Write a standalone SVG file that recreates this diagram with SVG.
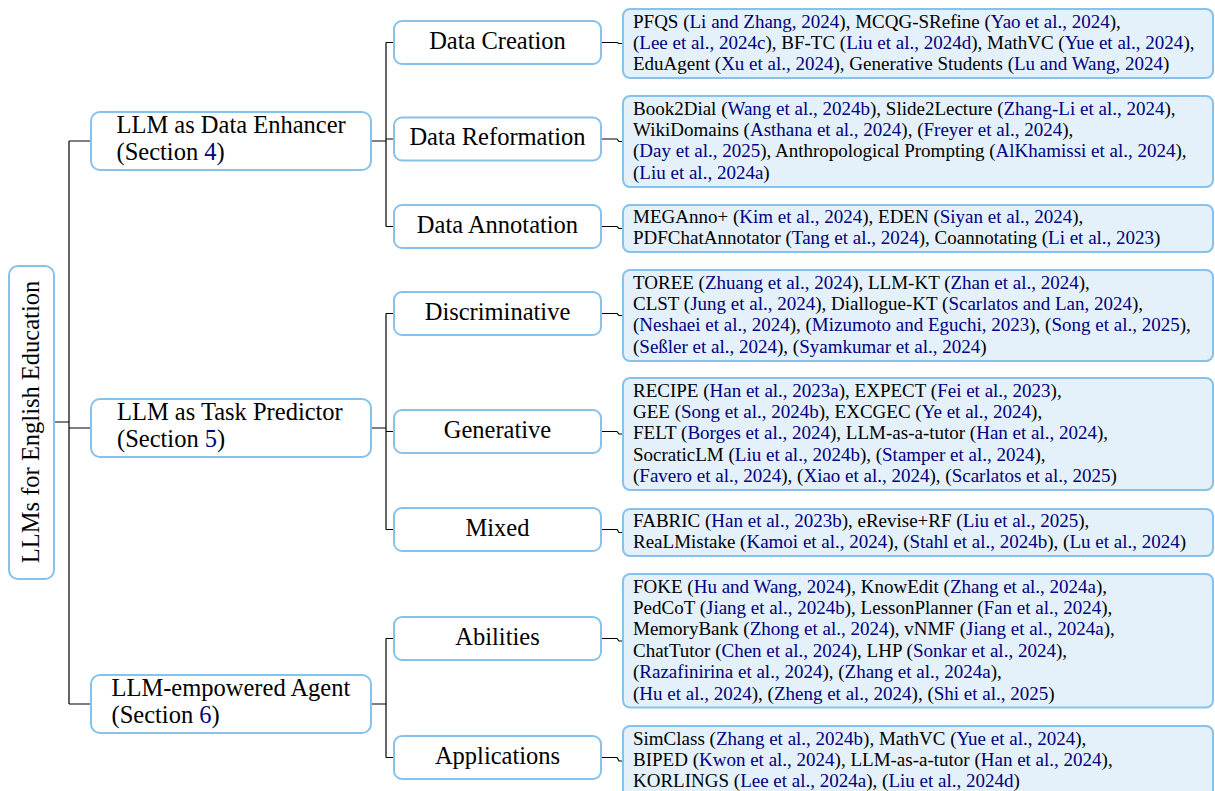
<svg xmlns="http://www.w3.org/2000/svg" width="1215" height="791" viewBox="0 0 1215 791" font-family="'Liberation Serif', Tinos, 'Times New Roman', 'DejaVu Serif', serif">
<style>
.box{fill:#ffffff;stroke:#86c2ec;stroke-width:2}
.leaf{fill:#e4f1fa;stroke:#86c2ec;stroke-width:2}
.t{font-family:'Liberation Serif', Tinos, 'Times New Roman', 'DejaVu Serif', serif;fill:#000}
.big{font-size:24.5px}
.mid{font-size:24.5px;text-anchor:middle}
.sm{font-size:19px}
.c{fill:#000080}
.conn{fill:none;stroke:#000;stroke-width:1.2}
</style>
<rect width="1215" height="791" fill="#fff"/>
<g id="connectors" class="conn">
<path d="M54,422H69M69,141V704M69,141H91M69,428H91M69,704H91"/>
<path d="M371,141H386M386,42.5V226.5M386,42.5H394M386,139H394M386,226.5H394"/>
<path d="M371,428H386M386,313.5V529.5M386,313.5H394M386,431.5H394M386,529.5H394"/>
<path d="M371,704H386M386,638.5V757.5M386,638.5H394M386,757.5H394"/>
<path d="M601,42.5H617L619,43.5H623M601,139H617L619,141.5H623M601,226.5H617L619,228.5H623M601,313.5H617L619,315.5H623M601,431.5H617L619,434H623M601,529.5H617L619,532.5H623M601,638.5H617L619,641H623M601,757.5H617L619,761H623"/>
</g>
<g id="root">
<rect class="box" x="9" y="266" width="45" height="313" rx="9"/>
<text class="t mid" transform="translate(38.5,422) rotate(-90)">LLMs for English Education</text>
</g>
<g id="enhancer">
<rect class="box" x="91" y="112" width="280" height="58" rx="9"/>
<text class="t big" x="116.5" y="133">LLM as Data Enhancer</text>
<text class="t big" x="116.5" y="159.5">(Section <tspan class="c">4</tspan>)</text>
</g>
<g id="predictor">
<rect class="box" x="91" y="399" width="280" height="58" rx="9"/>
<text class="t big" x="117" y="420">LLM as Task Predictor</text>
<text class="t big" x="117" y="446.5">(Section <tspan class="c">5</tspan>)</text>
</g>
<g id="agent">
<rect class="box" x="91" y="675" width="280" height="58" rx="9"/>
<text class="t big" x="111.5" y="696">LLM-empowered Agent</text>
<text class="t big" x="111.5" y="722.5">(Section <tspan class="c">6</tspan>)</text>
</g>
<g id="data-creation">
<rect class="box" x="394" y="21" width="207" height="43" rx="8"/>
<text class="t mid" x="497.5" y="48.5">Data Creation</text>
</g>
<g id="data-reformation">
<rect class="box" x="394" y="117.5" width="207" height="43" rx="8"/>
<text class="t mid" x="497.5" y="145">Data Reformation</text>
</g>
<g id="data-annotation">
<rect class="box" x="394" y="205" width="207" height="43" rx="8"/>
<text class="t mid" x="497.5" y="232.5">Data Annotation</text>
</g>
<g id="discriminative">
<rect class="box" x="394" y="292" width="207" height="43" rx="8"/>
<text class="t mid" x="497.5" y="319.5">Discriminative</text>
</g>
<g id="generative">
<rect class="box" x="394" y="410" width="207" height="43" rx="8"/>
<text class="t mid" x="497.5" y="437.5">Generative</text>
</g>
<g id="mixed">
<rect class="box" x="394" y="508" width="207" height="43" rx="8"/>
<text class="t mid" x="497.5" y="535.5">Mixed</text>
</g>
<g id="abilities">
<rect class="box" x="394" y="617" width="207" height="43" rx="8"/>
<text class="t mid" x="497.5" y="644.5">Abilities</text>
</g>
<g id="applications">
<rect class="box" x="394" y="736" width="207" height="43" rx="8"/>
<text class="t mid" x="497.5" y="763.5">Applications</text>
</g>
<g id="leaf-creation">
<rect class="leaf" x="623" y="9" width="590" height="69" rx="7"/>
<text class="t sm" x="633" y="27.5">PFQS (<tspan class="c">Li and Zhang, 2024</tspan>), MCQG-SRefine (<tspan class="c">Yao et al., 2024</tspan>),</text>
<text class="t sm" x="633" y="48.9">(<tspan class="c">Lee et al., 2024c</tspan>), BF-TC (<tspan class="c">Liu et al., 2024d</tspan>), MathVC (<tspan class="c">Yue et al., 2024</tspan>),</text>
<text class="t sm" x="633" y="70.3">EduAgent (<tspan class="c">Xu et al., 2024</tspan>), Generative Students (<tspan class="c">Lu and Wang, 2024</tspan>)</text>
</g>
<g id="leaf-reformation">
<rect class="leaf" x="623" y="96" width="590" height="91" rx="7"/>
<text class="t sm" x="633" y="114.5">Book2Dial (<tspan class="c">Wang et al., 2024b</tspan>), Slide2Lecture (<tspan class="c">Zhang-Li et al., 2024</tspan>),</text>
<text class="t sm" x="633" y="135.9">WikiDomains (<tspan class="c">Asthana et al., 2024</tspan>), (<tspan class="c">Freyer et al., 2024</tspan>),</text>
<text class="t sm" x="633" y="157.3">(<tspan class="c">Day et al., 2025</tspan>), Anthropological Prompting (<tspan class="c">AlKhamissi et al., 2024</tspan>),</text>
<text class="t sm" x="633" y="178.7">(<tspan class="c">Liu et al., 2024a</tspan>)</text>
</g>
<g id="leaf-annotation">
<rect class="leaf" x="623" y="205" width="590" height="47" rx="7"/>
<text class="t sm" x="633" y="223">MEGAnno+ (<tspan class="c">Kim et al., 2024</tspan>), EDEN (<tspan class="c">Siyan et al., 2024</tspan>),</text>
<text class="t sm" x="633" y="244.4">PDFChatAnnotator (<tspan class="c">Tang et al., 2024</tspan>), Coannotating (<tspan class="c">Li et al., 2023</tspan>)</text>
</g>
<g id="leaf-discriminative">
<rect class="leaf" x="623" y="270" width="590" height="91" rx="7"/>
<text class="t sm" x="633" y="288.5">TOREE (<tspan class="c">Zhuang et al., 2024</tspan>), LLM-KT (<tspan class="c">Zhan et al., 2024</tspan>),</text>
<text class="t sm" x="633" y="309.9">CLST (<tspan class="c">Jung et al., 2024</tspan>), Diallogue-KT (<tspan class="c">Scarlatos and Lan, 2024</tspan>),</text>
<text class="t sm" x="633" y="331.3">(<tspan class="c">Neshaei et al., 2024</tspan>), (<tspan class="c">Mizumoto and Eguchi, 2023</tspan>), (<tspan class="c">Song et al., 2025</tspan>),</text>
<text class="t sm" x="633" y="352.7">(<tspan class="c">Seßler et al., 2024</tspan>), (<tspan class="c">Syamkumar et al., 2024</tspan>)</text>
</g>
<g id="leaf-generative">
<rect class="leaf" x="623" y="378" width="590" height="112" rx="7"/>
<text class="t sm" x="633" y="396.5">RECIPE (<tspan class="c">Han et al., 2023a</tspan>), EXPECT (<tspan class="c">Fei et al., 2023</tspan>),</text>
<text class="t sm" x="633" y="417.9">GEE (<tspan class="c">Song et al., 2024b</tspan>), EXCGEC (<tspan class="c">Ye et al., 2024</tspan>),</text>
<text class="t sm" x="633" y="439.3">FELT (<tspan class="c">Borges et al., 2024</tspan>), LLM-as-a-tutor (<tspan class="c">Han et al., 2024</tspan>),</text>
<text class="t sm" x="633" y="460.7">SocraticLM (<tspan class="c">Liu et al., 2024b</tspan>), (<tspan class="c">Stamper et al., 2024</tspan>),</text>
<text class="t sm" x="633" y="482.1">(<tspan class="c">Favero et al., 2024</tspan>), (<tspan class="c">Xiao et al., 2024</tspan>), (<tspan class="c">Scarlatos et al., 2025</tspan>)</text>
</g>
<g id="leaf-mixed">
<rect class="leaf" x="623" y="509" width="590" height="47" rx="7"/>
<text class="t sm" x="633" y="527">FABRIC (<tspan class="c">Han et al., 2023b</tspan>), eRevise+RF (<tspan class="c">Liu et al., 2025</tspan>),</text>
<text class="t sm" x="633" y="548.4">ReaLMistake (<tspan class="c">Kamoi et al., 2024</tspan>), (<tspan class="c">Stahl et al., 2024b</tspan>), (<tspan class="c">Lu et al., 2024</tspan>)</text>
</g>
<g id="leaf-abilities">
<rect class="leaf" x="623" y="574" width="590" height="133.5" rx="7"/>
<text class="t sm" x="633" y="592.5">FOKE (<tspan class="c">Hu and Wang, 2024</tspan>), KnowEdit (<tspan class="c">Zhang et al., 2024a</tspan>),</text>
<text class="t sm" x="633" y="613.9">PedCoT (<tspan class="c">Jiang et al., 2024b</tspan>), LessonPlanner (<tspan class="c">Fan et al., 2024</tspan>),</text>
<text class="t sm" x="633" y="635.3">MemoryBank (<tspan class="c">Zhong et al., 2024</tspan>), vNMF (<tspan class="c">Jiang et al., 2024a</tspan>),</text>
<text class="t sm" x="633" y="656.7">ChatTutor (<tspan class="c">Chen et al., 2024</tspan>), LHP (<tspan class="c">Sonkar et al., 2024</tspan>),</text>
<text class="t sm" x="633" y="678.1">(<tspan class="c">Razafinirina et al., 2024</tspan>), (<tspan class="c">Zhang et al., 2024a</tspan>),</text>
<text class="t sm" x="633" y="699.5">(<tspan class="c">Hu et al., 2024</tspan>), (<tspan class="c">Zheng et al., 2024</tspan>), (<tspan class="c">Shi et al., 2025</tspan>)</text>
</g>
<g id="leaf-applications">
<rect class="leaf" x="623" y="726" width="590" height="72" rx="7"/>
<text class="t sm" x="633" y="744.5">SimClass (<tspan class="c">Zhang et al., 2024b</tspan>), MathVC (<tspan class="c">Yue et al., 2024</tspan>),</text>
<text class="t sm" x="633" y="765.9">BIPED (<tspan class="c">Kwon et al., 2024</tspan>), LLM-as-a-tutor (<tspan class="c">Han et al., 2024</tspan>),</text>
<text class="t sm" x="633" y="787.3">KORLINGS (<tspan class="c">Lee et al., 2024a</tspan>), (<tspan class="c">Liu et al., 2024d</tspan>)</text>
</g>
</svg>
